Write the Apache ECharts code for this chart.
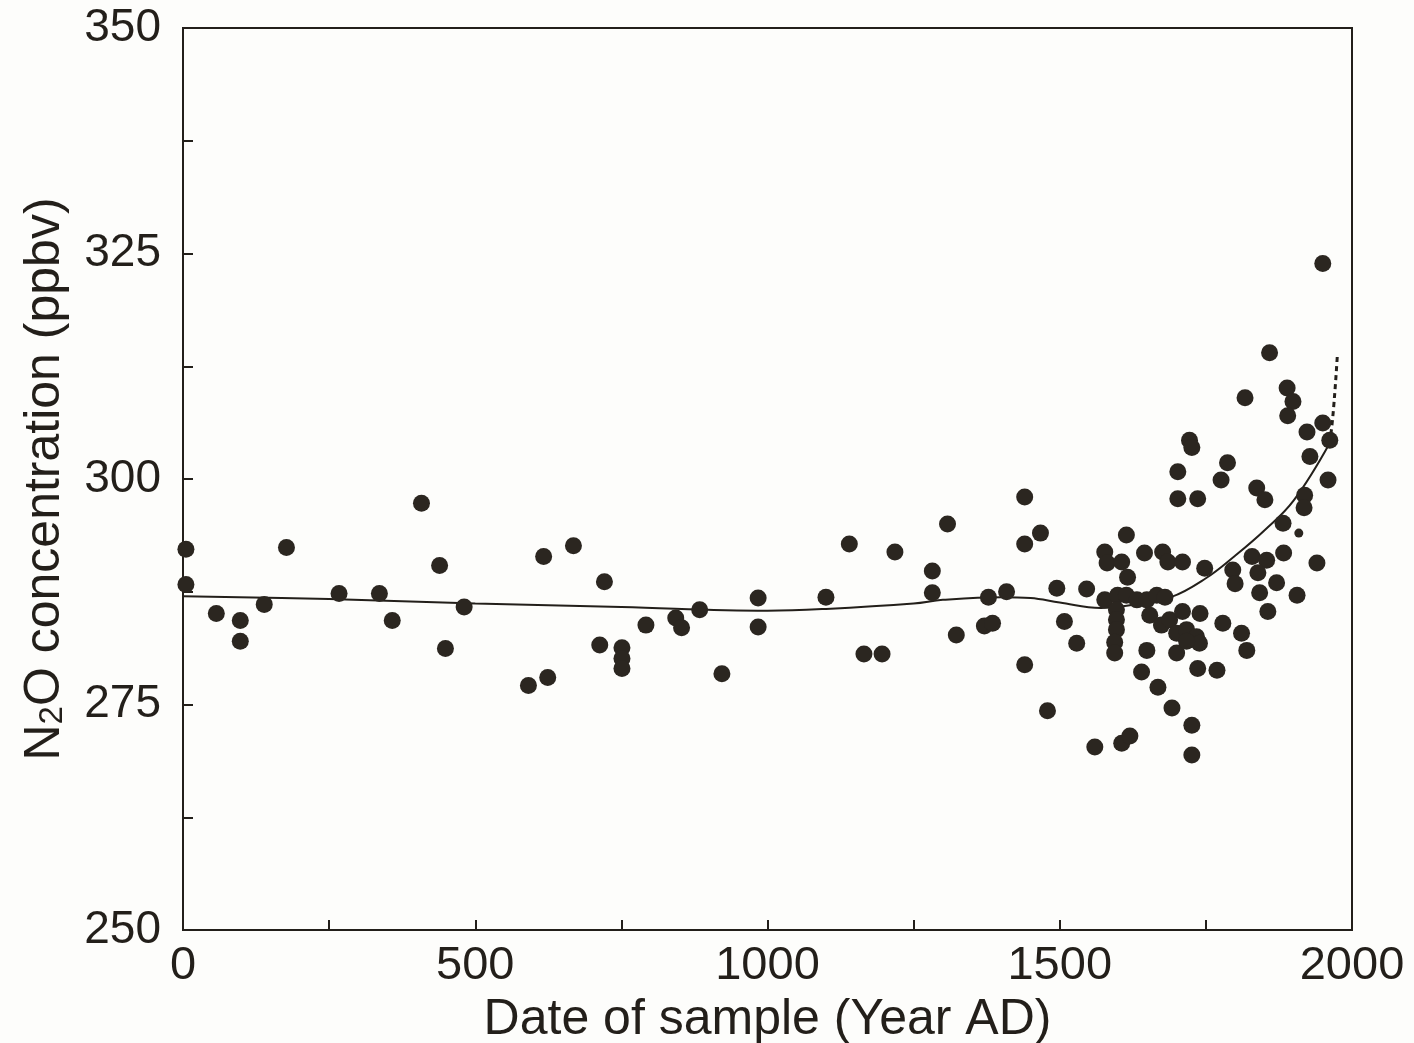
<!DOCTYPE html>
<html>
<head>
<meta charset="utf-8">
<script src="https://cdn.jsdelivr.net/npm/echarts@6/dist/echarts.min.js"></script>
<style>
html,body{margin:0;padding:0;background:#fdfdfb;}
#c{width:1414px;height:1043px;}
</style>
</head>
<body>
<div id="c"></div>
<script>
// Sample years (Year AD) and N2O concentrations (ppbv)
const sampleYears = [
  5, 5, 57, 98, 98, 139, 177, 267, 336, 358, 408, 439, 449, 481, 591, 624, 617, 668,
  721, 713, 751, 751, 751, 792, 843, 853, 884, 922, 984, 984, 1100, 1140, 1165, 1196,
  1218, 1282, 1282, 1308, 1323, 1371, 1385, 1378, 1409, 1440, 1440, 1440, 1467, 1495,
  1546, 1508, 1529, 1479, 1560, 1606, 1620,
  1577, 1581, 1606, 1645, 1676, 1685, 1710, 1616, 1577, 1599, 1614, 1632, 1649, 1666,
  1680, 1597, 1597, 1597, 1594, 1594, 1654, 1674, 1688, 1710, 1740, 1700, 1717, 1734,
  1739, 1700, 1717, 1649, 1640, 1668, 1692, 1726, 1726, 1736, 1769, 1614, 1722, 1726,
  1702, 1702, 1736, 1787, 1776, 1837, 1851, 1882, 1919, 1918, 1959, 1928, 1923, 1950,
  1962, 1940, 1748, 1796, 1800, 1829, 1854, 1839, 1883, 1871, 1842, 1906, 1856, 1779,
  1811, 1820, 1950, 1859, 1817, 1889, 1899, 1890
];
const sampleN2O = [
  292.2, 288.3, 285.1, 284.3, 282.0, 286.1, 292.4, 287.3, 287.3, 284.3, 297.3, 290.4, 281.2, 285.8, 277.1, 278.0, 291.4, 292.6,
  288.6, 281.6, 281.3, 280.1, 279.0, 283.8, 284.6, 283.5, 285.5, 278.4, 286.8, 283.6, 286.9, 292.8, 280.6, 280.6,
  291.9, 289.8, 287.4, 295.0, 282.7, 283.7, 284.0, 286.9, 287.5, 298.0, 292.8, 279.4, 294.0, 287.9,
  287.8, 284.2, 281.8, 274.3, 270.3, 270.7, 271.5,
  291.9, 290.7, 290.8, 291.8, 291.9, 290.8, 290.8, 289.1, 286.6, 287.1, 287.1, 286.6, 286.6, 287.1,
  286.9, 285.5, 284.4, 283.3, 281.9, 280.7, 284.9, 283.8, 284.4, 285.3, 285.1, 282.9, 283.3, 282.5,
  281.8, 280.7, 282.0, 281.0, 278.6, 276.9, 274.6, 272.7, 269.4, 279.0, 278.8, 293.8, 304.3, 303.5,
  300.8, 297.8, 297.8, 301.8, 299.9, 299.0, 297.7, 295.1, 298.2, 296.8, 299.9, 302.5, 305.2, 306.2,
  304.3, 290.7, 290.1, 289.9, 288.4, 291.4, 291.0, 289.6, 291.8, 288.5, 287.4, 287.1, 285.3, 284.0,
  282.9, 281.0, 323.9, 314.0, 309.0, 310.1, 308.6, 307.0
];
// small dot
const smallYears = [1909];
const smallN2O = [294.0];

// Smoothed curve
const curveYears = [0, 250, 500, 750, 1000, 1100, 1250, 1300, 1400, 1450, 1500, 1570, 1620, 1690, 1750, 1800, 1850, 1900, 1962];
const curveN2O   = [287.0, 286.7, 286.2, 285.8, 285.4, 285.6, 286.2, 286.6, 286.9, 286.8, 286.3, 285.7, 286.0, 286.9, 289.0, 291.5, 294.3, 297.6, 304.0];
// Dashed extension
const dashYears = [1962, 1968, 1975];
const dashN2O   = [304.0, 307.5, 313.8];

const yTickMin = 250, yTickMax = 350, yStep = 12.5, yLabelStep = 25;
const xTickMin = 0, xTickMax = 2000, xStep = 250, xLabelStep = 500;

const zip = (a, b) => a.map((v, i) => [v, b[i]]);
const ink = '#231f1a';
const font = 'Liberation Sans, Arial, sans-serif';

const chart = echarts.init(document.getElementById('c'));
chart.setOption({
  backgroundColor: '#fdfdfb',
  animation: false,
  grid: {
    left: 183, right: 62, top: 28, bottom: 113,
    containLabel: false, outerBoundsMode: 'none',
    show: true, borderColor: ink, borderWidth: 2, backgroundColor: 'transparent'
  },
  xAxis: {
    type: 'value', min: xTickMin, max: xTickMax, interval: xStep,
    name: 'Date of sample (Year AD)', nameLocation: 'middle', nameGap: 64,
    nameTextStyle: { fontFamily: font, fontSize: 50, color: ink },
    axisLine: { show: true, lineStyle: { color: ink, width: 2 } },
    axisTick: { show: true, inside: true, length: 10, lineStyle: { color: ink, width: 2 } },
    splitLine: { show: false },
    axisLabel: {
      fontFamily: font, fontSize: 47, color: ink, margin: 13,
      formatter: v => (v % xLabelStep === 0 ? String(v) : '')
    }
  },
  yAxis: {
    type: 'value', min: yTickMin, max: yTickMax, interval: yStep,
    name: '{t|N}{s|2}{t|O concentration (ppbv)}', nameLocation: 'middle', nameGap: 113,
    nameTextStyle: {
      fontFamily: font, fontSize: 50, color: ink,
      rich: {
        t: { fontFamily: font, fontSize: 50, color: ink },
        s: { fontFamily: font, fontSize: 33, color: ink, padding: [0, 0, -16, 0] }
      }
    },
    axisLine: { show: true, lineStyle: { color: ink, width: 2 } },
    axisTick: { show: true, inside: true, length: 10, lineStyle: { color: ink, width: 2 } },
    splitLine: { show: false },
    axisLabel: {
      fontFamily: font, fontSize: 46, color: ink, margin: 22,
      formatter: v => (v % yLabelStep === 0 ? String(v) : '')
    }
  },
  series: [
    {
      type: 'line', data: zip(curveYears, curveN2O), smooth: 0.4, showSymbol: false, symbol: 'none',
      lineStyle: { color: ink, width: 2 }, z: 2
    },
    {
      type: 'line', data: zip(dashYears, dashN2O), smooth: true, showSymbol: false, symbol: 'none',
      lineStyle: { color: ink, width: 3, type: [5, 4] }, z: 2
    },
    {
      type: 'scatter', data: zip(sampleYears, sampleN2O), symbol: 'circle', symbolSize: 17,
      itemStyle: { color: '#2b2620', opacity: 1 }, z: 3
    },
    {
      type: 'scatter', data: zip(smallYears, smallN2O), symbol: 'circle', symbolSize: 9,
      itemStyle: { color: '#2b2620', opacity: 1 }, z: 3
    }
  ]
});
</script>
</body>
</html>
